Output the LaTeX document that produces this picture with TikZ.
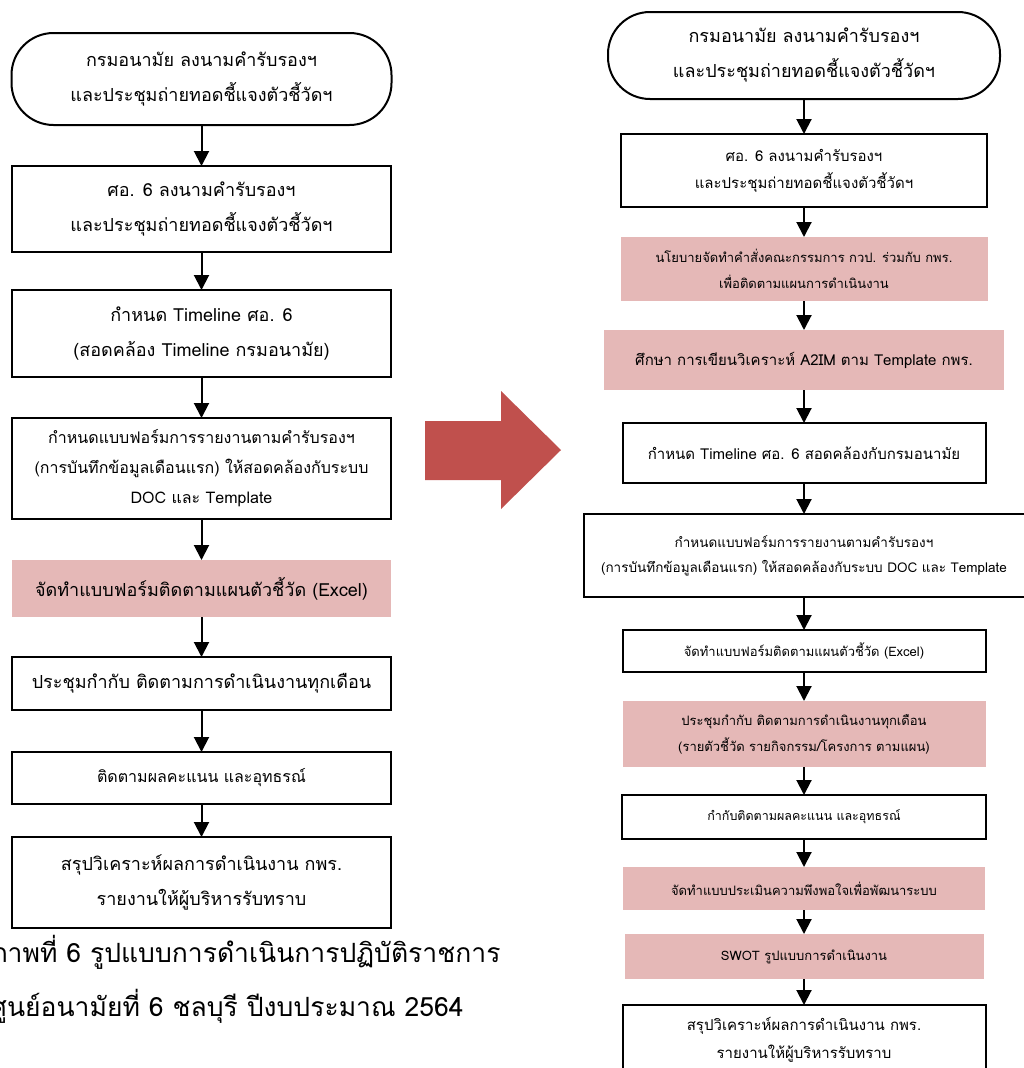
\documentclass[tikz,border=0pt]{standalone}
\usepackage{fontspec}
\setmainfont[Script=Thai]{Loma}
\usetikzlibrary{positioning}
\usetikzlibrary{arrows.meta}
\definecolor{pinkfill}{RGB}{229,184,183}
\definecolor{bigred}{RGB}{192,80,77}
\tikzset{
    stepnode/.style={draw,line width=2pt,align=center,inner sep=0pt,outer sep=0pt},
    startnode/.style={stepnode,rounded corners=42pt},
    hlnode/.style={fill=pinkfill,align=center,inner sep=0pt,outer sep=0pt},
    flow/.style={line width=2pt,-{Triangle[width=15pt,length=15pt]}},
}

\begin{document}
\begin{tikzpicture}[x=1pt,y=1pt]
    \clip (0,0) rectangle (1024,-1068);

    % left column
    \node (l1) [startnode,minimum width=380pt,minimum height=92pt,font=\fontsize{18}{35}\selectfont] at (201.5,-79)
        {กรมอนามัย ลงนามคำรับรองฯ\\และประชุมถ่ายทอดชี้แจงตัวชี้วัดฯ};
    \node (l2) [stepnode,below=41pt of l1,minimum width=379pt,minimum height=86pt,font=\fontsize{18}{35}\selectfont]
        {ศอ. 6 ลงนามคำรับรองฯ\\และประชุมถ่ายทอดชี้แจงตัวชี้วัดฯ};
    \node (l3) [stepnode,below=38pt of l2,minimum width=379pt,minimum height=87pt,font=\fontsize{18}{35}\selectfont]
        {กำหนด Timeline ศอ. 6\\(สอดคล้อง Timeline กรมอนามัย)};
    \node (l4) [stepnode,below=41pt of l3,minimum width=379pt,minimum height=101pt,font=\fontsize{16}{30}\selectfont]
        {กำหนดแบบฟอร์มการรายงานตามคำรับรองฯ\\(การบันทึกข้อมูลเดือนแรก) ให้สอดคล้องกับระบบ\\DOC และ Template};
    \node (l5) [hlnode,below=41pt of l4,minimum width=379pt,minimum height=57pt,font=\fontsize{18}{35}\selectfont]
        {จัดทำแบบฟอร์มติดตามแผนตัวชี้วัด (Excel)};
    \node (l6) [stepnode,below=40pt of l5,minimum width=379pt,minimum height=53pt,font=\fontsize{18}{35}\selectfont]
        {ประชุมกำกับ ติดตามการดำเนินงานทุกเดือน};
    \node (l7) [stepnode,below=42pt of l6,minimum width=379pt,minimum height=52pt,font=\fontsize{16}{30}\selectfont]
        {ติดตามผลคะแนน และอุทธรณ์};
    \node (l8) [stepnode,below=33pt of l7,minimum width=379pt,minimum height=91pt,font=\fontsize{18}{35}\selectfont]
        {สรุปวิเคราะห์ผลการดำเนินงาน กพร.\\รายงานให้ผู้บริหารรับทราบ};

    \node (caption) [anchor=west,align=left,inner sep=0pt,font=\fontsize{26.5}{54}\selectfont] at (-10,-979)
        {ภาพที่ 6 รูปแบบการดำเนินการปฏิบัติราชการ\\ศูนย์อนามัยที่ 6 ชลบุรี ปีงบประมาณ 2564};

    % big arrow
    \fill[bigred] (425,-421) -- (501,-421) -- (501,-391) -- (561,-450)
        -- (501,-509) -- (501,-480) -- (425,-480) -- cycle;

    % right column
    \node (r1) [startnode,minimum width=392pt,minimum height=87pt,font=\fontsize{18}{35}\selectfont] at (804,-55.5)
        {กรมอนามัย ลงนามคำรับรองฯ\\และประชุมถ่ายทอดชี้แจงตัวชี้วัดฯ};
    \node (r2) [stepnode,below=35pt of r1,minimum width=366pt,minimum height=73pt,font=\fontsize{15}{27}\selectfont]
        {ศอ. 6 ลงนามคำรับรองฯ\\และประชุมถ่ายทอดชี้แจงตัวชี้วัดฯ};
    \node (r3) [hlnode,below=30pt of r2,minimum width=367pt,minimum height=64pt,font=\fontsize{13}{26}\selectfont]
        {นโยบายจัดทำคำสั่งคณะกรรมการ กวป. ร่วมกับ กพร.\\เพื่อติดตามแผนการดำเนินงาน};
    \node (r4) [hlnode,below=29pt of r3,minimum width=400pt,minimum height=60pt,font=\fontsize{15}{30}\selectfont]
        {ศึกษา การเขียนวิเคราะห์ A2IM ตาม Template กพร.};
    \node (r5) [stepnode,below=33pt of r4,minimum width=363pt,minimum height=60pt,font=\fontsize{15}{27}\selectfont]
        {กำหนด Timeline ศอ. 6 สอดคล้องกับกรมอนามัย};
    \node (r6) [stepnode,below=31pt of r5,minimum width=441pt,minimum height=83pt,font=\fontsize{13.5}{25}\selectfont]
        {กำหนดแบบฟอร์มการรายงานตามคำรับรองฯ\\(การบันทึกข้อมูลเดือนแรก) ให้สอดคล้องกับระบบ DOC และ Template};
    \node (r7) [stepnode,below=33pt of r6,minimum width=363pt,minimum height=42pt,font=\fontsize{13}{25}\selectfont]
        {จัดทำแบบฟอร์มติดตามแผนตัวชี้วัด (Excel)};
    \node (r8) [hlnode,below=29pt of r7,minimum width=363pt,minimum height=66pt,font=\fontsize{13}{26}\selectfont]
        {ประชุมกำกับ ติดตามการดำเนินงานทุกเดือน\\(รายตัวชี้วัด รายกิจกรรม/โครงการ ตามแผน)};
    \node (r9) [stepnode,below=28pt of r8,minimum width=364pt,minimum height=44pt,font=\fontsize{12.5}{25}\selectfont]
        {กำกับติดตามผลคะแนน และอุทธรณ์};
    \node (r10) [hlnode,below=28pt of r9,minimum width=362pt,minimum height=43pt,font=\fontsize{13}{25}\selectfont]
        {จัดทำแบบประเมินความพึงพอใจเพื่อพัฒนาระบบ};
    \node (r11) [hlnode,below=24pt of r10,minimum width=359pt,minimum height=45pt,font=\fontsize{13}{25}\selectfont]
        {SWOT รูปแบบการดำเนินงาน};
    \node (r12) [stepnode,below=26pt of r11,minimum width=363pt,minimum height=70pt,font=\fontsize{15}{28}\selectfont]
        {สรุปวิเคราะห์ผลการดำเนินงาน กพร.\\รายงานให้ผู้บริหารรับทราบ};

    \foreach \a/\b in {l1/l2,l2/l3,l3/l4,l4/l5,l5/l6,l6/l7,l7/l8,
                       r1/r2,r2/r3,r3/r4,r4/r5,r5/r6,r6/r7,r7/r8,r8/r9,r9/r10,r10/r11,r11/r12}
        \draw[flow] (\a) -- (\b);
\end{tikzpicture}
\end{document}
